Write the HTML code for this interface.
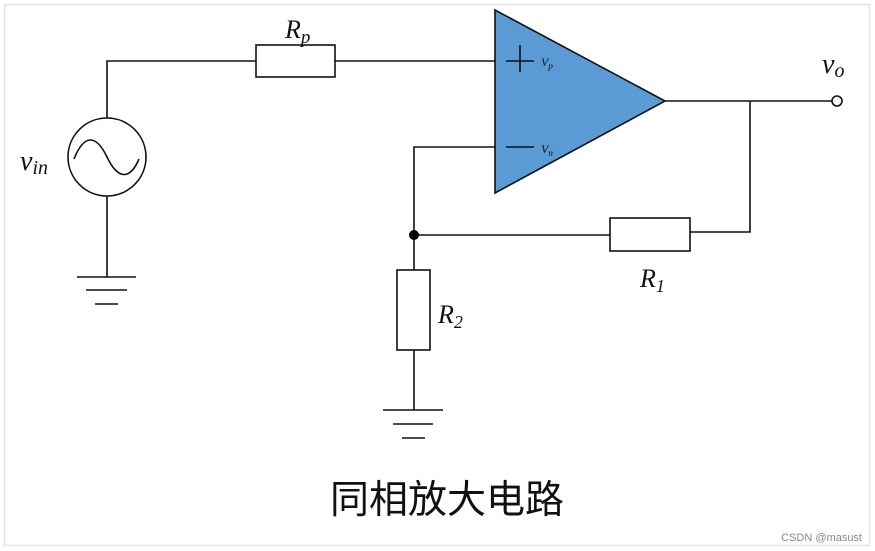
<!DOCTYPE html>
<html><head><meta charset="utf-8"><style>
body{margin:0;background:#fff;width:875px;height:551px;overflow:hidden}
</style></head><body>
<svg width="875" height="551" xmlns="http://www.w3.org/2000/svg" style="display:block">
<rect x="4.5" y="4.5" width="865" height="541" fill="#fff" stroke="#e2e2e2" stroke-width="1.5"/>
<g stroke="#111" stroke-width="1.6" fill="none">
<polyline points="107,118 107,61 256,61"/>
<rect x="256" y="45" width="79" height="32"/>
<line x1="335" y1="61" x2="495" y2="61"/>
<circle cx="107" cy="157" r="39"/>
<path d="M74,159 C84,134 96,134 107,157 C118,180 130,180 139,159"/>
<line x1="107" y1="196" x2="107" y2="277"/>
<line x1="77" y1="277" x2="136" y2="277"/>
<line x1="86" y1="290" x2="127" y2="290"/>
<line x1="95" y1="304" x2="118" y2="304"/>
<polygon points="495,10 495,193 665,101" fill="#5b9bd5"/>
<line x1="506" y1="61" x2="534" y2="61"/>
<line x1="520" y1="45" x2="520" y2="72"/>
<line x1="506" y1="147" x2="534" y2="147"/>
<polyline points="495,147 414,147 414,270"/>
<rect x="397" y="270" width="33" height="80"/>
<line x1="414" y1="350" x2="414" y2="410"/>
<line x1="383" y1="410" x2="443" y2="410"/>
<line x1="393" y1="424" x2="433" y2="424"/>
<line x1="402" y1="438" x2="425" y2="438"/>
<line x1="414" y1="235" x2="610" y2="235"/>
<rect x="610" y="218" width="80" height="33"/>
<polyline points="690,232 750,232 750,101"/>
<line x1="665" y1="101" x2="832" y2="101"/>
<circle cx="837" cy="101" r="5" fill="#fff"/>
</g>
<circle cx="414" cy="235" r="5" fill="#000"/>
<g font-family="Liberation Serif, serif" font-style="italic" fill="#111">
<text x="285" y="38" font-size="26">R<tspan font-size="19" dy="5">p</tspan></text>
<text x="20" y="170" font-size="28">v<tspan font-size="20" dy="4">in</tspan></text>
<text x="822" y="73" font-size="28">v<tspan font-size="20" dy="4">o</tspan></text>
<text x="640" y="287" font-size="26">R<tspan font-size="18" dy="5">1</tspan></text>
<text x="438" y="323" font-size="26">R<tspan font-size="18" dy="5">2</tspan></text>
<text x="541" y="66" font-size="12">V<tspan font-size="9" dy="3">p</tspan></text>
<text x="541" y="153" font-size="12">V<tspan font-size="9" dy="3">n</tspan></text>
</g>
<text x="447" y="513" text-anchor="middle" font-size="39" fill="#111" font-family="Liberation Sans, Noto Sans CJK SC, sans-serif">同相放大电路</text>
<text x="862" y="541" text-anchor="end" font-size="11" fill="#888" font-family="Liberation Sans, sans-serif">CSDN @masust</text>
</svg>
</body></html>
